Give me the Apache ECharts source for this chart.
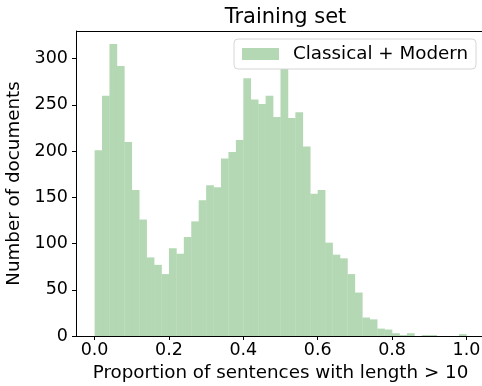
<!DOCTYPE html>
<html>
<head>
<meta charset="utf-8">
<script src="https://cdn.jsdelivr.net/npm/echarts@6/dist/echarts.min.js"></script>
<style>html,body{margin:0;padding:0;background:#fff}#c{width:482px;height:386px}</style>
</head>
<body>
<div id="c"></div>
<script>
var binStart = 0, binWidth = 0.02;
var counts = [201,260,316,292,210,158,126,85,77,67,95,89,107,124,147,163,161,192,199,212,279,256,251,260,237,304,236,242,205,154,158,101,88,84,67,47,20,18,8,7,3,1,3,0,1,1,0,0,0,2];
var xTicks = [0, 0.2, 0.4, 0.6, 0.8, 1.0];
var yTicks = [0, 50, 100, 150, 200, 250, 300];

var data = counts.map(function (c, i) {
  return [binStart + i * binWidth, binStart + (i + 1) * binWidth, c];
});

var font = 'DejaVu Sans';
var chart = echarts.init(document.getElementById('c'), null, {renderer: 'canvas'});
chart.setOption({
  animation: false,
  title: {
    text: 'Training set', left: 280.5, textAlign: 'center', top: 2,
    textStyle: {fontFamily: font, fontSize: 21, fontWeight: 'normal', color: '#000'}
  },
  legend: {
    left: 234, top: 39,
    data: ['Classical + Modern'],
    itemWidth: 37, itemHeight: 12,
    padding: [6, 8, 6, 8],
    backgroundColor: '#fff', borderColor: '#d6d6d6', borderWidth: 1, borderRadius: 4,
    icon: 'rect',
    textStyle: {fontFamily: font, fontSize: 18.3, color: '#000', padding: [0, 0, 0, 9]}
  },
  grid: {left: 76, top: 31, width: 409, height: 305, containLabel: false, outerBoundsMode: 'none'},
  xAxis: {
    type: 'value', min: -0.05, max: 1.05,
    name: 'Proportion of sentences with length > 10', nameLocation: 'middle', nameGap: 27,
    nameTextStyle: {fontFamily: font, fontSize: 18.3, color: '#000'},
    axisLine: {show: true, onZero: false, lineStyle: {color: '#000', width: 1}},
    axisTick: {show: true, length: 4, lineStyle: {color: '#000'}, customValues: xTicks},
    axisLabel: {fontFamily: font, fontSize: 17.5, color: '#000', margin: 5, customValues: xTicks,
      formatter: function (v) { return v.toFixed(1); }},
    splitLine: {show: false}
  },
  yAxis: {
    type: 'value', min: 0, max: 330,
    name: 'Number of documents', nameLocation: 'middle', nameGap: 47,
    nameTextStyle: {fontFamily: font, fontSize: 18.3, color: '#000'},
    axisLine: {show: true, onZero: false, lineStyle: {color: '#000', width: 1}},
    axisTick: {show: true, length: 4, lineStyle: {color: '#000'}, customValues: yTicks},
    axisLabel: {fontFamily: font, fontSize: 17.5, color: '#000', margin: 8, customValues: yTicks},
    splitLine: {show: false}
  },
  graphic: [{
    type: 'line', z: 100,
    shape: {x1: 76, y1: 31.5, x2: 485, y2: 31.5},
    style: {stroke: '#000', lineWidth: 1}
  }],
  series: [{
    name: 'Classical + Modern',
    type: 'custom',
    itemStyle: {color: '#b3d8b3'},
    encode: {x: [0, 1], y: 2},
    renderItem: function (params, api) {
      var p0 = api.coord([api.value(0), api.value(2)]);
      var p1 = api.coord([api.value(1), 0]);
      return {
        type: 'rect',
        shape: {x: p0[0], y: p0[1], width: p1[0] - p0[0] + 0.3, height: p1[1] - p0[1]},
        style: {fill: '#b3d8b3'}
      };
    },
    data: data
  }]
});
</script>
</body>
</html>
